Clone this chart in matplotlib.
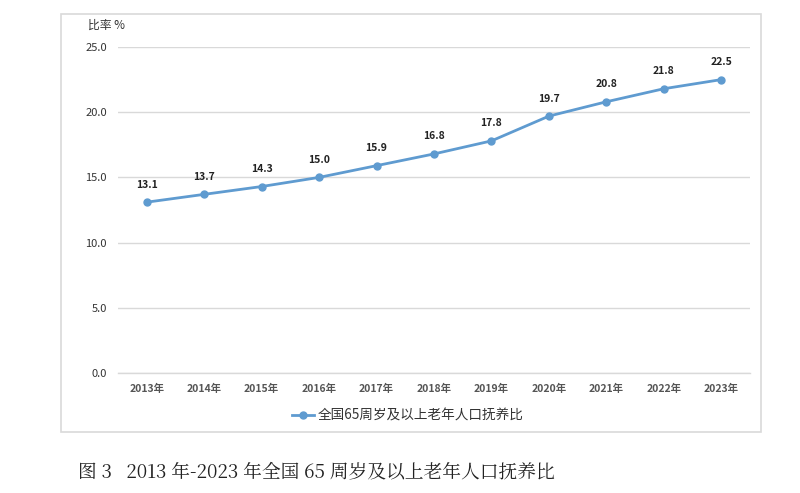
import matplotlib.pyplot as plt
from matplotlib.patches import Rectangle

plt.rcParams['font.family'] = ['Noto Sans CJK SC', 'DejaVu Sans']

years = ["2013年", "2014年", "2015年", "2016年", "2017年", "2018年",
         "2019年", "2020年", "2021年", "2022年", "2023年"]
ratio = [13.1, 13.7, 14.3, 15.0, 15.9, 16.8, 17.8, 19.7, 20.8, 21.8, 22.5]
yticks = [0.0, 5.0, 10.0, 15.0, 20.0, 25.0]
series_name = "全国65周岁及以上老年人口抚养比"
caption = "图 3   2013 年-2023 年全国 65 周岁及以上老年人口抚养比"

fig = plt.figure(figsize=(8, 4.93), dpi=100)
fig.patch.set_facecolor("white")

# outer frame around chart
fig.patches.append(Rectangle((61 / 800, 1 - 432 / 493), 700 / 800, 418 / 493,
                             transform=fig.transFigure, fill=False,
                             edgecolor="#d9d9d9", linewidth=1.2))

ax = fig.add_axes([118 / 800, 1 - 373 / 493, 632 / 800, 326 / 493])
x = list(range(len(years)))
line_color = "#5f9bd0"
ax.plot(x, ratio, color=line_color, linewidth=2.0, marker="o", markersize=5,
        label=series_name)
for xi, v in zip(x, ratio):
    ax.annotate(f"{v:.1f}", (xi, v), xytext=(0, 9), textcoords="offset points",
                ha="center", va="bottom", fontsize=7.5, fontweight="bold",
                color="#222222")

ax.set_xlim(-0.5, 10.5)
ax.set_ylim(0, 25)
ax.set_yticks(yticks)
ax.set_yticklabels([f"{t:.1f}" for t in yticks], fontsize=8, color="#333333")
ax.set_xticks(x)
ax.set_xticklabels(years, fontsize=7.5, fontweight="bold", color="#555555")
ax.tick_params(length=0, pad=8)
ax.grid(axis="y", color="#d9d9d9", linewidth=1)
ax.axhline(0, color="#d9d9d9", linewidth=1, clip_on=False, zorder=0)
ax.set_axisbelow(True)
for s in ax.spines.values():
    s.set_visible(False)

fig.text(88 / 800, 1 - 25 / 493, "比率 %", fontsize=8.5, color="#333333",
         va="center", ha="left")

fig.legend(loc="center", bbox_to_anchor=(408 / 800, 1 - 416 / 493),
           frameon=False, fontsize=9.8, handlelength=1.6, handletextpad=0.3,
           labelcolor="#333333")

fig.text(78 / 800, 1 - 473 / 493, caption, fontsize=13.5, color="#222222",
         va="center", ha="left", family=["Noto Serif CJK SC", "Noto Sans CJK SC", "DejaVu Serif"])

fig.savefig("out.png", dpi=100)
